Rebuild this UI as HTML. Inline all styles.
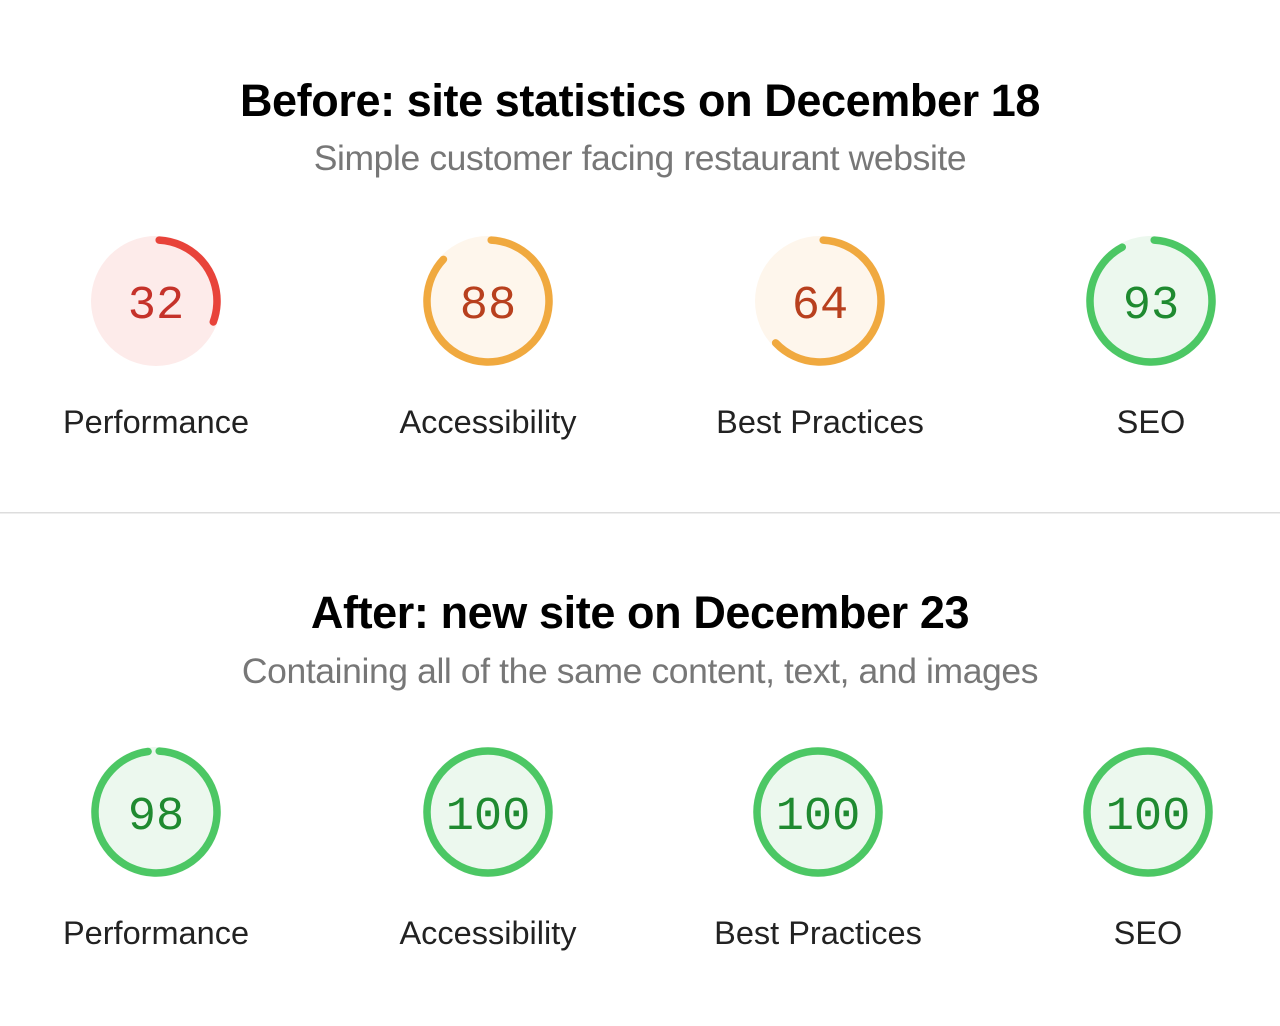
<!DOCTYPE html>
<html><head><meta charset="utf-8"><style>
html,body{margin:0;padding:0;background:#fff;}
svg{display:block;}
.t{font-family:"Liberation Sans",sans-serif;font-weight:bold;font-size:45px;fill:#000;letter-spacing:-0.4px}
.s{font-family:"Liberation Sans",sans-serif;font-size:35.5px;fill:#777;letter-spacing:-0.4px}
.l{font-family:"Liberation Sans",sans-serif;font-size:32.5px;fill:#222}
.n{font-family:"Liberation Mono","DejaVu Sans Mono",monospace;font-size:47px}
</style></head><body>
<svg width="1280" height="1026" viewBox="0 0 1280 1026" xmlns="http://www.w3.org/2000/svg">
<text class="t" x="640" y="116" text-anchor="middle">Before: site statistics on December 18</text>
<text class="s" x="640" y="170" text-anchor="middle">Simple customer facing restaurant website</text>

<circle cx="156" cy="301" r="65" fill="#fdebea"/>
<circle cx="156" cy="301" r="61" fill="none" stroke="#e8433a" stroke-width="7.5" stroke-linecap="round" stroke-dasharray="114 400" transform="rotate(-87 156 301)"/>
<text class="n" x="156" y="318" text-anchor="middle" fill="#c5322a">32</text>

<circle cx="488" cy="301" r="65" fill="#fef6ec"/>
<circle cx="488" cy="301" r="61" fill="none" stroke="#f0a93f" stroke-width="7.5" stroke-linecap="round" stroke-dasharray="330 400" transform="rotate(-87 488 301)"/>
<text class="n" x="488" y="318" text-anchor="middle" fill="#b8401e">88</text>

<circle cx="820" cy="301" r="65" fill="#fef6ec"/>
<circle cx="820" cy="301" r="61" fill="none" stroke="#f0a93f" stroke-width="7.5" stroke-linecap="round" stroke-dasharray="238 400" transform="rotate(-87 820 301)"/>
<text class="n" x="820" y="318" text-anchor="middle" fill="#b8401e">64</text>

<circle cx="1151" cy="301" r="65" fill="#ecf8ee"/>
<circle cx="1151" cy="301" r="61" fill="none" stroke="#4cc764" stroke-width="7.5" stroke-linecap="round" stroke-dasharray="350 400" transform="rotate(-87 1151 301)"/>
<text class="n" x="1151" y="318" text-anchor="middle" fill="#1f8a30">93</text>

<text class="l" x="156" y="433" text-anchor="middle">Performance</text>
<text class="l" x="488" y="433" text-anchor="middle">Accessibility</text>
<text class="l" x="820" y="433" text-anchor="middle">Best Practices</text>
<text class="l" x="1151" y="433" text-anchor="middle">SEO</text>

<rect x="0" y="512" width="1280" height="1.5" fill="#ddd"/>

<text class="t" x="640" y="628" text-anchor="middle">After: new site on December 23</text>
<text class="s" x="640" y="683" text-anchor="middle">Containing all of the same content, text, and images</text>

<circle cx="156" cy="812" r="65" fill="#ecf8ee"/>
<circle cx="156" cy="812" r="61" fill="none" stroke="#4cc764" stroke-width="7.5" stroke-linecap="round" stroke-dasharray="372 400" transform="rotate(-87 156 812)"/>
<text class="n" x="156" y="829" text-anchor="middle" fill="#1f8a30">98</text>

<circle cx="488" cy="812" r="65" fill="#ecf8ee"/>
<circle cx="488" cy="812" r="61" fill="none" stroke="#4cc764" stroke-width="7.5"/>
<text class="n" x="488" y="829" text-anchor="middle" fill="#1f8a30">100</text>

<circle cx="818" cy="812" r="65" fill="#ecf8ee"/>
<circle cx="818" cy="812" r="61" fill="none" stroke="#4cc764" stroke-width="7.5"/>
<text class="n" x="818" y="829" text-anchor="middle" fill="#1f8a30">100</text>

<circle cx="1148" cy="812" r="65" fill="#ecf8ee"/>
<circle cx="1148" cy="812" r="61" fill="none" stroke="#4cc764" stroke-width="7.5"/>
<text class="n" x="1148" y="829" text-anchor="middle" fill="#1f8a30">100</text>

<text class="l" x="156" y="944" text-anchor="middle">Performance</text>
<text class="l" x="488" y="944" text-anchor="middle">Accessibility</text>
<text class="l" x="818" y="944" text-anchor="middle">Best Practices</text>
<text class="l" x="1148" y="944" text-anchor="middle">SEO</text>
</svg>
</body></html>
